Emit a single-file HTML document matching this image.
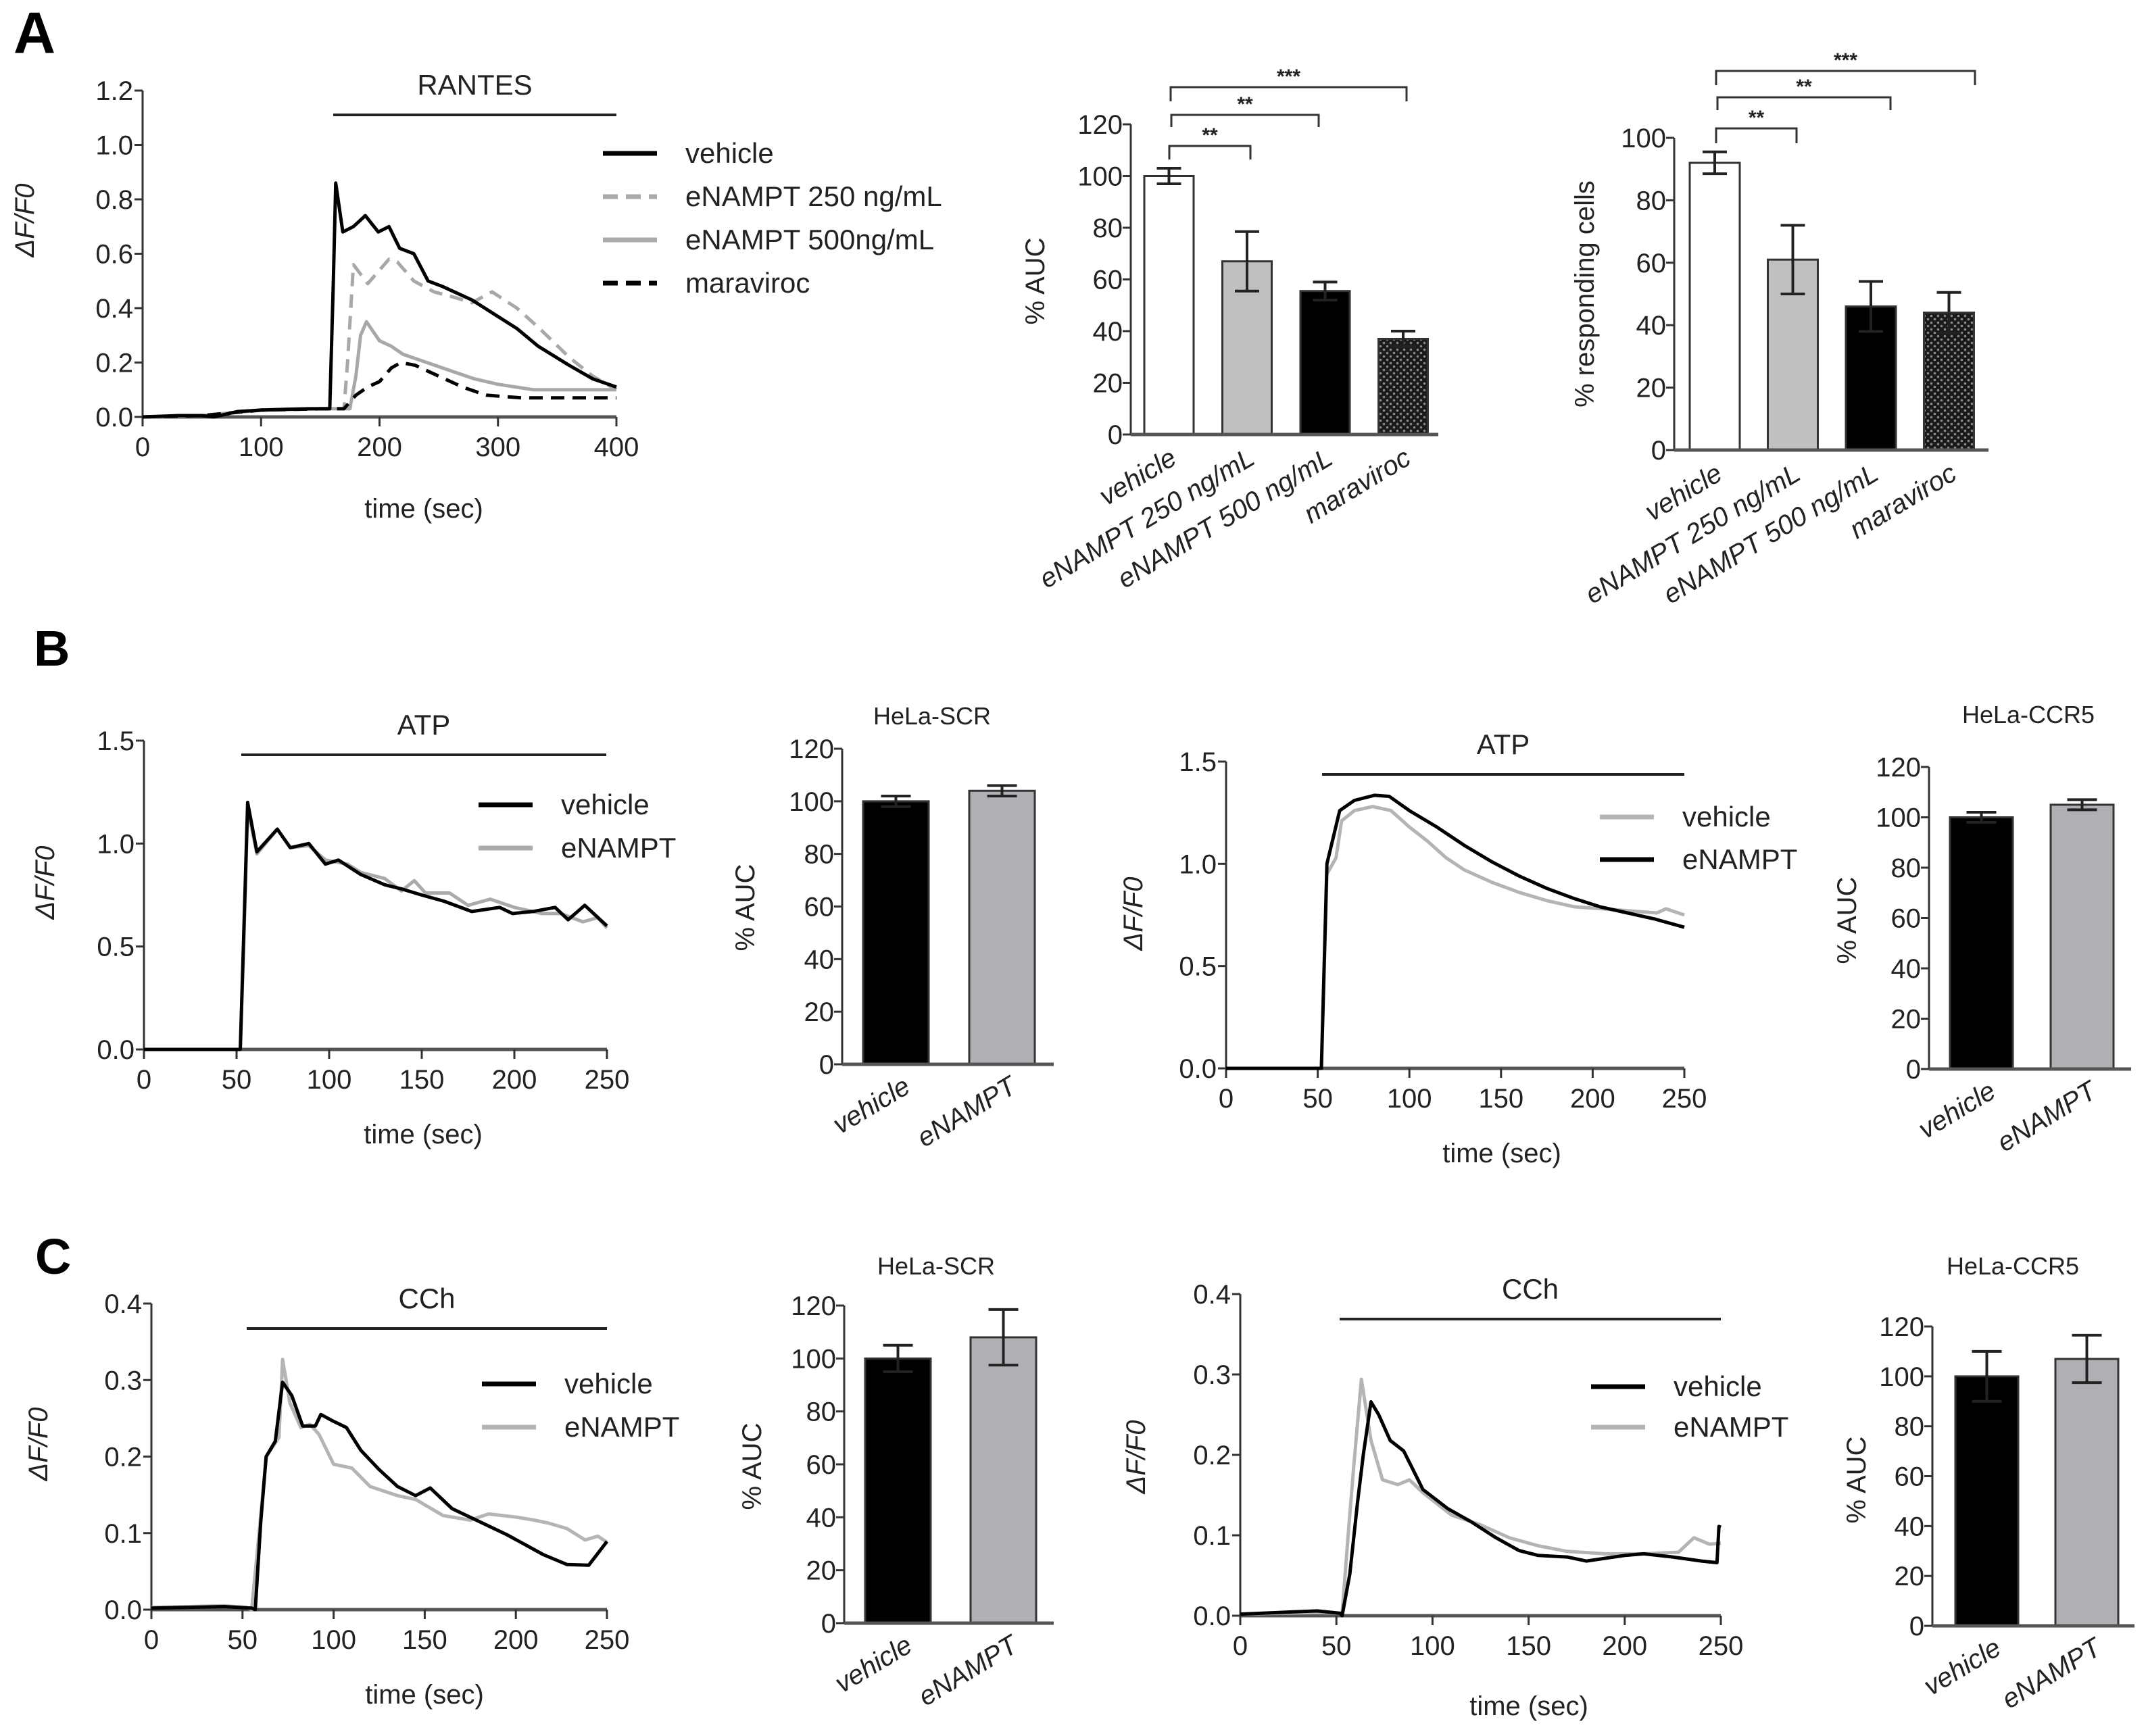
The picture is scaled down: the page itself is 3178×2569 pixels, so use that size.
<!DOCTYPE html>
<html><head><meta charset="utf-8"><style>
html,body{margin:0;padding:0;background:#fff}
svg{display:block;font-family:"Liberation Sans",Arial,sans-serif}
</style></head><body>
<svg id="fig" xmlns="http://www.w3.org/2000/svg" width="3178" height="2569" viewBox="0 0 3178 2569">
<defs>
<pattern id="hatch" width="10" height="10" patternUnits="userSpaceOnUse">
<rect width="10" height="10" fill="#1a1a1a"/><circle cx="2.5" cy="2.5" r="1.8" fill="#8a8a8a"/><circle cx="7.5" cy="7.5" r="1.8" fill="#8a8a8a"/>
</pattern>
</defs>
<text x="20" y="78" font-size="86" font-weight="bold">A</text>
<text x="50" y="985" font-size="74" font-weight="bold">B</text>
<text x="52" y="1885" font-size="74" font-weight="bold">C</text>
</svg>
<script>
// ---------- DATA ----------
// Panel A trace (RANTES)
const aVehT=[0,30,50,60,80,100,120,140,158,161,163,169,178,188,199,208,217,229,241,253,278,298,316,334,360,380,400];
const aVehV=[0,0.005,0.005,0,0.02,0.025,0.028,0.03,0.03,0.5,0.86,0.68,0.70,0.74,0.68,0.70,0.62,0.60,0.50,0.48,0.43,0.375,0.325,0.26,0.19,0.14,0.11];
const a250T=[0,50,100,150,170,173,178,190,208,215,229,246,263,278,295,316,334,360,380,400];
const a250V=[0,0.005,0.025,0.03,0.03,0.2,0.56,0.49,0.58,0.57,0.50,0.46,0.44,0.42,0.46,0.40,0.33,0.22,0.15,0.10];
const a500T=[0,50,100,150,175,180,184,189,200,210,220,240,260,280,300,330,370,400];
const a500V=[0,0.005,0.025,0.03,0.03,0.15,0.30,0.35,0.28,0.26,0.23,0.20,0.17,0.14,0.12,0.10,0.10,0.10];
const aMarT=[0,50,100,150,170,180,190,200,210,218,230,250,270,290,320,360,400];
const aMarV=[0,0.005,0.025,0.03,0.03,0.08,0.11,0.13,0.18,0.20,0.19,0.15,0.11,0.08,0.07,0.07,0.07];
// Panel A bars
const aCats=["vehicle","eNAMPT 250 ng/mL","eNAMPT 500 ng/mL","maraviroc"];
const aAuc=[100,67,55.5,37];
const aAucErr=[3,11.5,3.5,3];
const aResp=[92,61,46,44];
const aRespErr=[3.5,11,8,6.5];
// Panel B traces
const b1VehT=[0,20,40,52,54,56,61,72,79,89,98,105,117,130,139,150,162,177,192,199,210,222,229,238,250];
const b1VehV=[0,0,0,0,0.6,1.20,0.96,1.07,0.98,1.0,0.90,0.92,0.85,0.80,0.78,0.75,0.72,0.67,0.69,0.66,0.67,0.69,0.63,0.70,0.60];
const b1EnaT=[0,20,40,52,54,56,61,72,79,89,98,110,117,130,139,146,152,165,175,187,200,215,225,237,245,250];
const b1EnaV=[0,0,0,0,0.55,1.17,0.95,1.07,0.98,0.99,0.92,0.90,0.86,0.83,0.77,0.82,0.76,0.76,0.70,0.73,0.69,0.66,0.66,0.62,0.64,0.59];
const b3EnaT=[0,20,40,52,55,62,70,81,89,100,115,130,145,160,175,190,204,219,234,250];
const b3EnaV=[0,0,0,0,1.0,1.26,1.31,1.335,1.33,1.26,1.18,1.09,1.01,0.94,0.88,0.83,0.79,0.76,0.73,0.69];
const b3VehT=[0,20,40,52,55,60,63,70,80,90,100,110,120,130,145,160,175,190,205,220,235,240,250];
const b3VehV=[0,0,0,0,0.95,1.03,1.21,1.26,1.28,1.26,1.18,1.11,1.03,0.97,0.91,0.86,0.82,0.79,0.78,0.77,0.76,0.78,0.75];
// Panel C traces
const c1VehT=[0,20,40,55,57,60,63,68,72,77,83,90,93,100,107,115,125,135,145,153,165,180,195,205,215,228,240,250];
const c1VehV=[0.002,0.003,0.004,0.002,0,0.115,0.20,0.22,0.297,0.28,0.24,0.24,0.255,0.246,0.238,0.208,0.183,0.161,0.149,0.159,0.132,0.115,0.098,0.085,0.072,0.059,0.058,0.089];
const c1EnaT=[0,20,40,52,55,60,63,70,72,76,82,87,92,100,110,120,135,145,160,175,185,200,210,218,228,238,245,250];
const c1EnaV=[0.003,0.004,0.005,0.003,0,0.123,0.20,0.225,0.327,0.27,0.238,0.242,0.229,0.19,0.185,0.161,0.149,0.144,0.123,0.117,0.125,0.121,0.117,0.113,0.106,0.091,0.096,0.088];
const c3VehT=[0,20,40,52,53,57,61,64,68,72,78,85,90,95,108,120,133,145,155,170,180,200,210,225,240,248,249,250];
const c3VehV=[0.002,0.004,0.006,0.003,0,0.052,0.141,0.20,0.266,0.25,0.218,0.205,0.181,0.157,0.133,0.117,0.097,0.081,0.075,0.073,0.068,0.075,0.077,0.073,0.068,0.066,0.111,0.11];
const c3EnaT=[0,20,40,53,56,59,63,68,74,82,88,95,110,125,140,155,170,190,210,228,236,244,250];
const c3EnaV=[0.002,0.003,0.004,0.003,0.097,0.185,0.294,0.218,0.169,0.163,0.169,0.153,0.125,0.113,0.097,0.087,0.080,0.077,0.077,0.079,0.097,0.089,0.09];
// Panels B/C bars
const twoCats=["vehicle","eNAMPT"];
const b2Auc=[100,104]; const b2Err=[2,2];
const b4Auc=[100,105]; const b4Err=[2,2];
const c2Auc=[100,108]; const c2Err=[5,10.5];
const c4Auc=[100,107]; const c4Err=[10,9.5];
// tick labels
const aTraceYTicks=[0,0.2,0.4,0.6,0.8,1.0,1.2];
const aTraceXTicks=[0,100,200,300,400];
const bTraceYTicks=[0,0.5,1.0,1.5];
const cTraceYTicks=[0,0.1,0.2,0.3,0.4];
const t250XTicks=[0,50,100,150,200,250];
const aucTicks=[0,20,40,60,80,100,120];
const respTicks=[0,20,40,60,80,100];

// ---------- DRAWING ----------
const NS="http://www.w3.org/2000/svg";
const svg=document.getElementById("fig");
function el(tag,attrs,parent){const e=document.createElementNS(NS,tag);for(const k in attrs)e.setAttribute(k,attrs[k]);(parent||svg).appendChild(e);return e;}
function txt(x,y,s,size,anchor,extra,parent){const t=el("text",Object.assign({x:x,y:y,"font-size":size,"text-anchor":anchor||"start",fill:"#222"},extra||{}),parent);t.textContent=s;return t;}

function lineChart(c){
  const g=el("g",{});
  
  
  const sx=t=>c.x0+t/c.xmax*(c.x1-c.x0);
  const sy=v=>c.y0-v/c.ymax*(c.y0-c.y1);
  // axes
  const ax=el("g",{},g);
  
  
  el("line",{x1:c.x0,y1:c.y0+10,x2:c.x0,y2:c.y1,stroke:"#333","stroke-width":3},ax);
  c.yticks.forEach(v=>{el("line",{x1:c.x0-12,y1:sy(v),x2:c.x0,y2:sy(v),stroke:"#333","stroke-width":3},ax);
    const t=txt(c.x0-14,sy(v)+14,v.toFixed(1),40,"end",{},ax);
    
    });
  const xa=el("g",{},g);
  
  
  el("line",{x1:c.x0,y1:c.y0,x2:c.x1,y2:c.y0,stroke:"#555","stroke-width":5},xa);
  c.xticks.forEach(v=>{el("line",{x1:sx(v),y1:c.y0,x2:sx(v),y2:c.y0+14,stroke:"#333","stroke-width":3},xa);
    const t=txt(sx(v),c.y0+58,String(v),40,"middle",{},xa);
    
    });
  const xt=txt(c.xtx,c.xty,"time (sec)",40,"middle",{},g);
  
  
  const yt=txt(0,0,"ΔF/F0",40,"middle",{"font-style":"italic",transform:`translate(${c.ytx},${c.yty}) rotate(-90)`},g);
  
  
  // stimulus bar
  const sb=el("line",{x1:c.bar[0],y1:c.bar[2],x2:c.bar[1],y2:c.bar[2],stroke:"#222","stroke-width":4},g);
  
  
  const sl=txt((c.bar[0]+c.bar[1])/2,c.bar[2]-30,c.stim,42,"middle",{},g);
  
  
  // series
  c.series.forEach(s=>{
    const d=s.t.map((t,i)=>(i?"L":"M")+sx(t).toFixed(1)+","+sy(s.v[i]).toFixed(1)).join("");
    const p=el("path",{d:d,fill:"none",stroke:s.color,"stroke-width":s.w||5,"stroke-linejoin":"round","stroke-dasharray":s.dash||"none"},g);
    
    
  });
  // legend
  c.legend.items.forEach((s,i)=>{
    const y=c.legend.y+i*c.legend.dy;
    const lg=el("g",{},g);
    
    
    el("line",{x1:c.legend.x,y1:y,x2:c.legend.x+80,y2:y,stroke:s.color,"stroke-width":7,"stroke-dasharray":s.dash||"none"},lg);
    txt(c.legend.x+122,y+14,s.label,42,"start",{},lg);
  });
}

function barChart(c){
  const g=el("g",{});
  
  
  const sy=v=>c.y0-v/c.ymax*(c.y0-c.y1);
  const ax=el("g",{},g);
  
  
  el("line",{x1:c.ax,y1:c.y0,x2:c.ax,y2:c.y1,stroke:"#333","stroke-width":3},ax);
  c.ticks.forEach(v=>{el("line",{x1:c.ax-12,y1:sy(v),x2:c.ax,y2:sy(v),stroke:"#333","stroke-width":3},ax);
    const t=txt(c.ax-12,sy(v)+14,String(v),40,"end",{},ax);
    
    });
  const yt=txt(0,0,c.ytitle,40,"middle",{transform:`translate(${c.ytx},${c.yty}) rotate(-90)`},g);
  
  
  if(c.title){const tt=txt(c.titleX,c.titleY,c.title,36,"middle",{},g);
    
    }
  c.vals.forEach((v,i)=>{
    const x=c.left+i*c.step, cx=x+c.bw/2;
    const r=el("rect",{x:x,y:sy(v),width:c.bw,height:c.y0-sy(v),fill:c.fills[i],stroke:"#333","stroke-width":3},g);
    
    
    const e=c.errs[i], hw=c.cap/2;
    const eg=el("g",{stroke:"#222","stroke-width":4},g);
    
    
    el("line",{x1:cx,y1:sy(v-e),x2:cx,y2:sy(v+e)},eg);
    el("line",{x1:cx-hw,y1:sy(v+e),x2:cx+hw,y2:sy(v+e)},eg);
    el("line",{x1:cx-hw,y1:sy(v-e),x2:cx+hw,y2:sy(v-e)},eg);
    const lx=cx+c.lblDx, ly=c.y0+c.lblDy;
    const lt=txt(lx,ly,c.cats[i],40,"end",{"font-style":"italic",transform:`rotate(-31 ${lx} ${ly})`},g);
    
    
  });
  el("line",{x1:c.ax,y1:c.y0,x2:c.axEnd,y2:c.y0,stroke:"#555","stroke-width":5},g);
  (c.brackets||[]).forEach(b=>{
    const bg=el("g",{},g);
    
    
    el("path",{d:`M${b[0]},${b[3]}V${b[2]}H${b[1]}V${b[3]}`,fill:"none",stroke:"#333","stroke-width":3},bg);
    txt((b[0]+b[1])/2,b[2]-6,b[4],30,"middle",{"font-weight":"bold"},bg);
  });
}

const BLK="#000", GRY="#aaa";
lineChart({name:"rantes-trace-chart",x0:211,x1:912,xmax:400,y0:617,y1:134,ymax:1.2,yticks:aTraceYTicks,xticks:aTraceXTicks,
  xtx:627,xty:766,ytx:50,yty:326,bar:[493,912,170],stim:"RANTES",
  series:[{key:"enampt-250",t:a250T,v:a250V,color:"#a8a8a8",dash:"20,12"},{key:"enampt-500",t:a500T,v:a500V,color:"#a8a8a8"},
          {key:"maraviroc",t:aMarT,v:aMarV,color:BLK,dash:"20,12"},{key:"vehicle",t:aVehT,v:aVehV,color:BLK}],
  legend:{x:892,y:227,dy:64,items:[{key:"vehicle",label:"vehicle",color:BLK},{key:"enampt-250",label:"eNAMPT 250 ng/mL",color:"#aaa",dash:"22,12"},{key:"enampt-500",label:"eNAMPT 500ng/mL",color:"#aaa"},{key:"maraviroc",label:"maraviroc",color:BLK,dash:"22,12"}]}});
barChart({name:"auc-bar-chart",ax:1673,axEnd:2128,y0:643,y1:184,ymax:120,ticks:aucTicks,ytitle:"% AUC",ytx:1545,yty:416,
  left:1693,step:115.5,bw:73,cap:36,vals:aAuc,errs:aAucErr,cats:aCats,fills:["#fff","#c0c0c0","#000","url(#hatch)"],lblDx:14,lblDy:42,
  brackets:[[1730,1850,216,236,"**"],[1733,1951,170,188,"**"],[1732,2081,129,150,"***"]]});
barChart({name:"responding-cells-bar-chart",ax:2477,axEnd:2942,y0:666,y1:204,ymax:100,ticks:respTicks,ytitle:"% responding cells",ytx:2358,yty:435,
  left:2500,step:115.5,bw:74,cap:36,vals:aResp,errs:aRespErr,cats:aCats,fills:["#fff","#c0c0c0","#000","url(#hatch)"],lblDx:14,lblDy:42,
  brackets:[[2539,2658,190,212,"**"],[2541,2797,144,163,"**"],[2539,2922,105,126,"***"]]});

lineChart({name:"atp-hela-scr-trace",x0:213,x1:898,xmax:250,y0:1553,y1:1096,ymax:1.5,yticks:bTraceYTicks,xticks:t250XTicks,
  xtx:626,xty:1692,ytx:80,yty:1306,bar:[357,897,1117],stim:"ATP",
  series:[{key:"enampt",t:b1EnaT,v:b1EnaV,color:"#aaa"},{key:"vehicle",t:b1VehT,v:b1VehV,color:BLK}],
  legend:{x:708,y:1191,dy:64,items:[{key:"vehicle",label:"vehicle",color:BLK},{key:"enampt",label:"eNAMPT",color:"#aaa"}]}});
barChart({name:"atp-hela-scr-auc",ax:1246,axEnd:1559,y0:1575,y1:1108,ymax:120,ticks:aucTicks,ytitle:"% AUC",ytx:1116,yty:1343,
  title:"HeLa-SCR",titleX:1379,titleY:1072,left:1277,step:157,bw:97,cap:44,vals:b2Auc,errs:b2Err,cats:twoCats,fills:["#000","#b0b0b4"],lblDx:24,lblDy:40});
lineChart({name:"atp-hela-ccr5-trace",x0:1814,x1:2492,xmax:250,y0:1581,y1:1127,ymax:1.5,yticks:bTraceYTicks,xticks:t250XTicks,
  xtx:2222,xty:1720,ytx:1690,yty:1352,bar:[1956,2492,1146],stim:"ATP",
  series:[{key:"vehicle",t:b3VehT,v:b3VehV,color:"#b4b4b4"},{key:"enampt",t:b3EnaT,v:b3EnaV,color:BLK}],
  legend:{x:2367,y:1209,dy:63,items:[{key:"vehicle",label:"vehicle",color:"#b4b4b4"},{key:"enampt",label:"eNAMPT",color:BLK}]}});
barChart({name:"atp-hela-ccr5-auc",ax:2854,axEnd:3153,y0:1582,y1:1135,ymax:120,ticks:aucTicks,ytitle:"% AUC",ytx:2746,yty:1362,
  title:"HeLa-CCR5",titleX:3001,titleY:1070,left:2885,step:149,bw:93,cap:44,vals:b4Auc,errs:b4Err,cats:twoCats,fills:["#000","#b0b0b4"],lblDx:24,lblDy:40});

lineChart({name:"cch-hela-scr-trace",x0:224,x1:898,xmax:250,y0:2382,y1:1929,ymax:0.4,yticks:cTraceYTicks,xticks:t250XTicks,
  xtx:628,xty:2521,ytx:70,yty:2137,bar:[365,898,1966],stim:"CCh",
  series:[{key:"enampt",t:c1EnaT,v:c1EnaV,color:"#b4b4b4"},{key:"vehicle",t:c1VehT,v:c1VehV,color:BLK}],
  legend:{x:713,y:2048,dy:64,items:[{key:"vehicle",label:"vehicle",color:BLK},{key:"enampt",label:"eNAMPT",color:"#b4b4b4"}]}});
barChart({name:"cch-hela-scr-auc",ax:1249,axEnd:1559,y0:2402,y1:1932,ymax:120,ticks:aucTicks,ytitle:"% AUC",ytx:1126,yty:2170,
  title:"HeLa-SCR",titleX:1385,titleY:1886,left:1280,step:156,bw:97,cap:44,vals:c2Auc,errs:c2Err,cats:twoCats,fills:["#000","#b0b0b4"],lblDx:24,lblDy:40});
lineChart({name:"cch-hela-ccr5-trace",x0:1835,x1:2546,xmax:250,y0:2391,y1:1915,ymax:0.4,yticks:cTraceYTicks,xticks:t250XTicks,
  xtx:2262,xty:2538,ytx:1694,yty:2156,bar:[1982,2546,1952],stim:"CCh",
  series:[{key:"enampt",t:c3EnaT,v:c3EnaV,color:"#b4b4b4"},{key:"vehicle",t:c3VehT,v:c3VehV,color:BLK}],
  legend:{x:2354,y:2052,dy:60,items:[{key:"vehicle",label:"vehicle",color:BLK},{key:"enampt",label:"eNAMPT",color:"#b4b4b4"}]}});
barChart({name:"cch-hela-ccr5-auc",ax:2859,axEnd:3158,y0:2406,y1:1963,ymax:120,ticks:aucTicks,ytitle:"% AUC",ytx:2760,yty:2190,
  title:"HeLa-CCR5",titleX:2978,titleY:1886,left:2893,step:148,bw:93,cap:44,vals:c4Auc,errs:c4Err,cats:twoCats,fills:["#000","#b0b0b4"],lblDx:24,lblDy:40});
</script>
</body></html>
